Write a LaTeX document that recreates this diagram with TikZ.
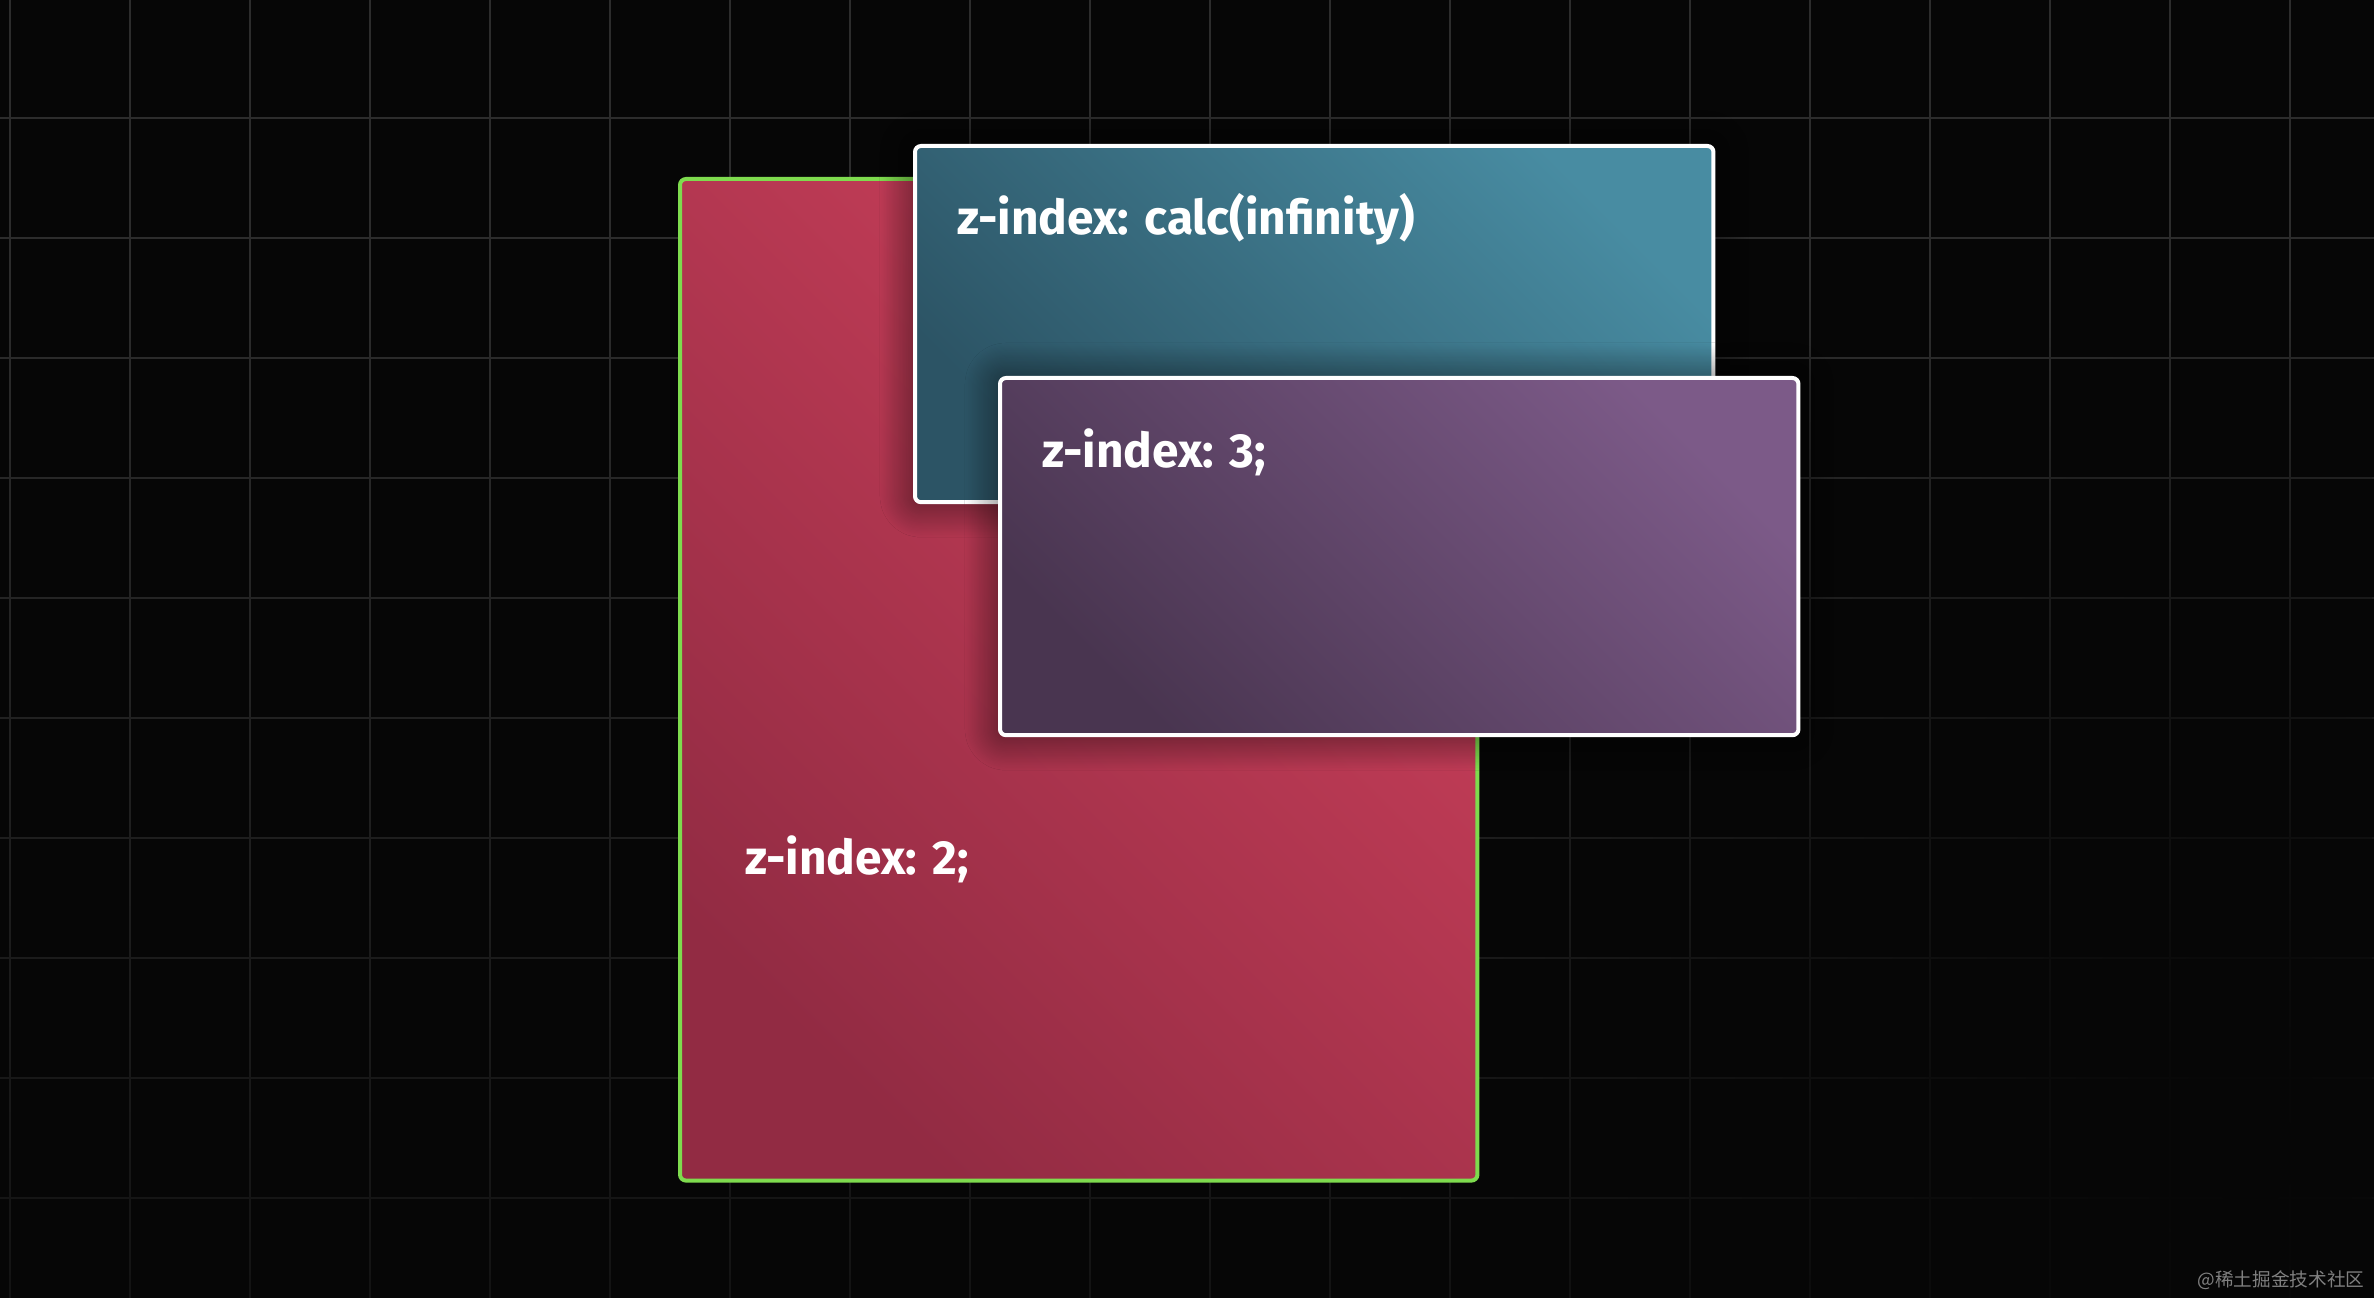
\documentclass[tikz,border=0pt]{standalone}
\usepackage{fontspec}
\setmainfont{Fira Sans}
\newfontfamily\cjkfont{Noto Sans CJK SC}
\usepackage{xcolor}
\usepackage{tikz}
\usetikzlibrary{positioning,shadows.blur,fadings}
\definecolor{bgblack}{HTML}{060606}
\definecolor{gridgray}{HTML}{2C2C2C}
\definecolor{reddark}{HTML}{922B43}
\definecolor{redlight}{HTML}{CC405B}
\definecolor{tealdark}{HTML}{2C5465}
\definecolor{teallight}{HTML}{488CA2}
\definecolor{purpledark}{HTML}{493550}
\definecolor{purplelight}{HTML}{7C5A88}
\definecolor{limeborder}{HTML}{7EDB4E}
\tikzfading[name=downfade, top color=transparent!100, bottom color=transparent!35]
\tikzfading[name=cornerfade, inner color=transparent!0, outer color=transparent!100]
\tikzset{
	panel/.style={
			rectangle, rounded corners=0.06cm, line width=0.04cm,
			anchor=north west, inner sep=0pt
		},
	gradient/.style 2 args={
			bottom color=#1, top color=#2, shading angle=-45
		},
	dropshade/.style={
			blur shadow={shadow xshift=0pt, shadow yshift=0pt,
					shadow blur radius=0.35cm, shadow opacity=65,
					shadow blur steps=30}
		},
	zlabel/.style={
			text=white, inner sep=0pt, anchor=base west,
			font=\fontsize{13.6}{16}\selectfont\bfseries
		}
}

\begin{document}
\begin{tikzpicture}[x=0.01cm, y=-0.01cm]
	\useasboundingbox (0, 0) rectangle (2374, 1298);
	\fill[bgblack] (0, 0) rectangle (2374, 1298);

	\foreach \gx in {10, 130, ..., 2374}
		\draw[gridgray, line width=0.02cm] (\gx, 0) -- (\gx, 1298);
	\foreach \gy in {-2, 118, ..., 1298}
		\draw[gridgray, line width=0.02cm] (0, \gy) -- (2374, \gy);
	\fill[bgblack, path fading=downfade] (0, 300) rectangle (2374, 1298);
	\fill[bgblack, path fading=cornerfade] (2250, 1150) circle (850);

	\node[panel, draw=limeborder, gradient={reddark}{redlight},
		minimum width=7.97cm, minimum height=10.01cm] (zred) at (678, 177) {};
	\node[panel, dropshade, draw=white, gradient={tealdark}{teallight},
		minimum width=7.98cm, minimum height=3.56cm] (zteal) at (913, 144) {};
	\node[panel, dropshade, draw=white, gradient={purpledark}{purplelight},
		minimum width=7.98cm, minimum height=3.57cm] (zpurple) at (998, 376) {};

	\node[zlabel] (redtext) at ([shift={(67, 698)}]zred.north west) {z-index: 2;};
	\node[zlabel] (tealtext) at ([shift={(44, 91)}]zteal.north west) {z-index: calc(infinity)};
	\node[zlabel] (purpletext) at ([shift={(44, 92)}]zpurple.north west) {z-index: 3;};

	\node[text=gray, inner sep=0pt, anchor=east,
		font=\cjkfont\fontsize{5.3}{6}\selectfont] (mark) at (2365, 1280) {@稀土掘金技术社区};
\end{tikzpicture}
\end{document}
